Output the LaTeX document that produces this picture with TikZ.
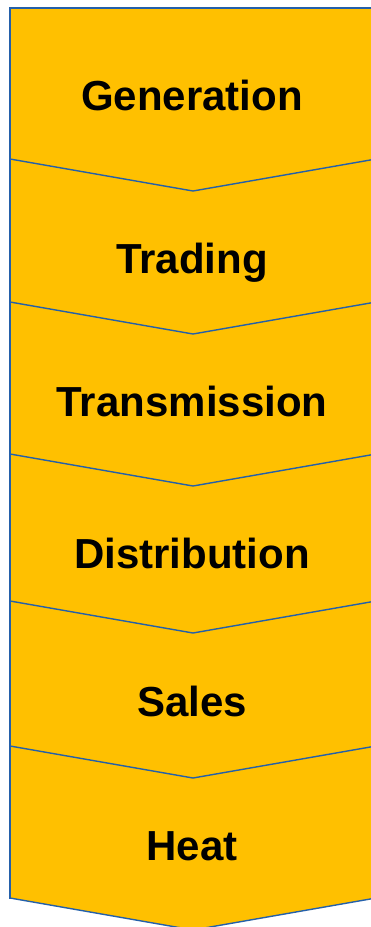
\documentclass[tikz,border=0pt]{standalone}
\usepackage{fontspec}
\setmainfont{Liberation Sans}
\definecolor{gold}{HTML}{FFC000}
\definecolor{edgeblue}{RGB}{36,96,170}
\tikzset{
  stagelabel/.style={anchor=base, inner sep=0pt,
    font=\bfseries\fontsize{42}{50}\selectfont, text=black},
  divider/.style={draw=edgeblue, line width=1.4pt, line join=miter},
}
\begin{document}
\begin{tikzpicture}[x=1pt, y=-1pt]
  \useasboundingbox (0,0) rectangle (370,927);
  % chevron column
  \fill[gold] (10,8) -- (376,8) -- (376,898) -- (193,930) -- (10,898) -- cycle;
  % outer rim: top and left edges as thin bands
  \fill[edgeblue] (8.8,6.6) rectangle (376,9.4);
  \fill[edgeblue] (8.8,6.6) rectangle (11.2,898.5);
  \draw[divider] (10,898) -- (193,930) -- (376,898);
  % stage separators
  \foreach \y in {159,302,454,601,746}
    \draw[divider] (10,\y) -- (193,\y+32) -- (376,\y);
  % stage labels
  \node[stagelabel] (gen)   at (192,110) {Generation};
  \node[stagelabel] (trade) at (192,273) {Trading};
  \node[stagelabel] (trans) at (192,416) {Transmission};
  \node[stagelabel] (dist)  at (192,568) {Distribution};
  \node[stagelabel] (sales) at (192,716) {Sales};
  \node[stagelabel] (heat)  at (192,860) {Heat};
\end{tikzpicture}
\end{document}
